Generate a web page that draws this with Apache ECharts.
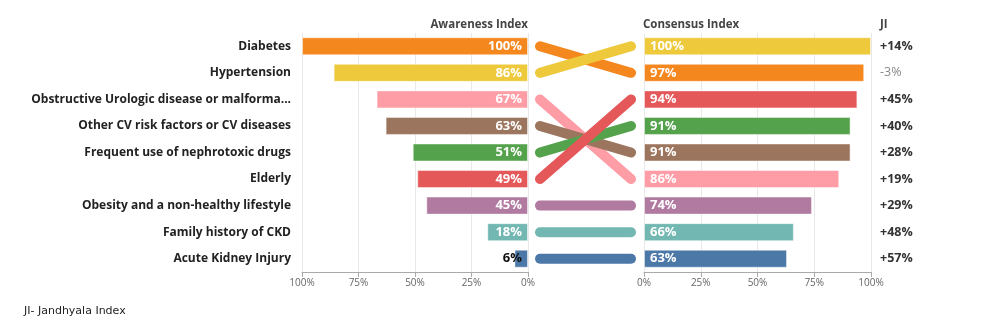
<!DOCTYPE html>
<html>
<head>
<meta charset="utf-8">
<script src="https://cdn.jsdelivr.net/npm/echarts@6/dist/echarts.min.js"></script>
<style>
  html, body { margin: 0; padding: 0; background: #fff; }
  #chart { width: 990px; height: 333px; }
</style>
</head>
<body>
<div id="chart"></div>
<script>
// left side, ordered by awareness
var categories = [
    'Diabetes',
    'Hypertension',
    'Obstructive Urologic disease or malforma...',
    'Other CV risk factors or CV diseases',
    'Frequent use of nephrotoxic drugs',
    'Elderly',
    'Obesity and a non-healthy lifestyle',
    'Family history of CKD',
    'Acute Kidney Injury'
];
var awareness = [100, 86, 67, 63, 51, 49, 45, 18, 6];
var catColors = ['#F5871F', '#EDC93B', '#FF9DA7', '#9C755F', '#55A24C', '#E5585A', '#B07AA1', '#72B7B1', '#4C78A8'];

// right side, ordered by consensus
var consensusCats = [
    'Hypertension',
    'Diabetes',
    'Elderly',
    'Frequent use of nephrotoxic drugs',
    'Other CV risk factors or CV diseases',
    'Obstructive Urologic disease or malforma...',
    'Obesity and a non-healthy lifestyle',
    'Family history of CKD',
    'Acute Kidney Injury'
];
var consensus = [100, 97, 94, 91, 91, 86, 74, 66, 63];
var jiLabels = ['+14%', '-3%', '+45%', '+40%', '+28%', '+19%', '+29%', '+48%', '+57%'];

var pctTicks = function (v) { return v + '%'; };
var FONT = 'Open Sans';

function colorOf(cat) { return catColors[categories.indexOf(cat)]; }

var leftData = awareness.map(function (v, i) {
    return {
        value: v,
        itemStyle: { color: catColors[i] },
        label: { color: v < 10 ? '#111' : '#fff' }
    };
});
var rightData = consensus.map(function (v, i) {
    return { value: v, itemStyle: { color: colorOf(consensusCats[i]) } };
});

// the slope lines in the middle, left rank -> right rank
var connectors = categories.map(function (cat, i) {
    var j = consensusCats.indexOf(cat);
    return {
        type: 'line',
        xAxisIndex: 2,
        yAxisIndex: 2,
        symbol: 'none',
        silent: true,
        data: [[0, i], [1, j]],
        lineStyle: { color: catColors[i], width: 10, cap: 'round' },
        z: 3 + i
    };
});

var gridLine = { show: true, lineStyle: { color: '#e8e8e8' } };
var axisLineStyle = { show: true, lineStyle: { color: '#aaa' } };
var headStyle = { fontSize: 11.5, fontWeight: 'bold', color: '#444', fontFamily: FONT };

var option = {
    animation: false,
    textStyle: { fontFamily: FONT },
    title: [
        { text: 'Awareness Index', right: 457, top: 14, textStyle: headStyle },
        { text: 'Consensus Index', left: 638, top: 14, textStyle: headStyle },
        { text: 'JI', left: 875, top: 14, textStyle: headStyle },
        { text: 'JI- Jandhyala Index', left: 19, top: 301, textStyle: { fontSize: 11, fontWeight: 'normal', color: '#222', fontFamily: 'DejaVu Sans' } }
    ],
    grid: [
        { left: 302, width: 226, top: 33, height: 239 },
        { left: 644, width: 227, top: 33, height: 239 },
        { left: 540, width: 91, top: 33, height: 239 }
    ],
    xAxis: [
        {
            gridIndex: 0, type: 'value', inverse: true, min: 0, max: 100, interval: 25,
            axisLine: axisLineStyle, axisTick: { show: true, lineStyle: { color: '#aaa' } },
            splitLine: gridLine,
            axisLabel: { formatter: pctTicks, color: '#666', fontSize: 10, margin: 6 }
        },
        {
            gridIndex: 1, type: 'value', min: 0, max: 100, interval: 25,
            axisLine: axisLineStyle, axisTick: { show: true, lineStyle: { color: '#aaa' } },
            splitLine: gridLine,
            axisLabel: { formatter: pctTicks, color: '#666', fontSize: 10, margin: 6 }
        },
        { gridIndex: 2, type: 'value', min: 0, max: 1, show: false }
    ],
    yAxis: [
        {
            gridIndex: 0, type: 'category', inverse: true, data: categories,
            axisLine: { show: false }, axisTick: { show: false },
            axisLabel: { color: '#222', fontWeight: 'bold', fontSize: 12, margin: 11 }
        },
        {
            gridIndex: 1, type: 'category', inverse: true, data: consensusCats, position: 'right',
            axisLine: { show: false }, axisTick: { show: false },
            axisLabel: {
                margin: 9, align: 'left',
                formatter: function (v, i) {
                    var t = jiLabels[i];
                    return t.charAt(0) === '-' ? '{neg|' + t + '}' : '{pos|' + t + '}';
                },
                rich: {
                    pos: { color: '#333', fontWeight: 'bold', fontSize: 12.5, fontFamily: FONT },
                    neg: { color: '#888', fontWeight: 'normal', fontSize: 12.5, fontFamily: FONT }
                }
            }
        },
        {
            gridIndex: 2, type: 'category', inverse: true, show: false,
            data: categories.map(function (c, i) { return i; })
        }
    ],
    series: [
        {
            type: 'bar', xAxisIndex: 0, yAxisIndex: 0, barWidth: 18,
            data: leftData,
            itemStyle: { borderColor: 'rgba(255,255,255,0.45)', borderWidth: 1 },
            label: {
                show: true, position: 'insideRight', distance: 6,
                formatter: '{c}%', fontWeight: 'bold', fontSize: 13, fontFamily: FONT
            }
        },
        {
            type: 'bar', xAxisIndex: 1, yAxisIndex: 1, barWidth: 18,
            data: rightData,
            itemStyle: { borderColor: 'rgba(255,255,255,0.45)', borderWidth: 1 },
            label: {
                show: true, position: 'insideLeft', distance: 6, color: '#fff',
                formatter: '{c}%', fontWeight: 'bold', fontSize: 13, fontFamily: FONT
            }
        }
    ].concat(connectors)
};

var myChart = echarts.init(document.getElementById('chart'));
myChart.setOption(option, true);
</script>
</body>
</html>
